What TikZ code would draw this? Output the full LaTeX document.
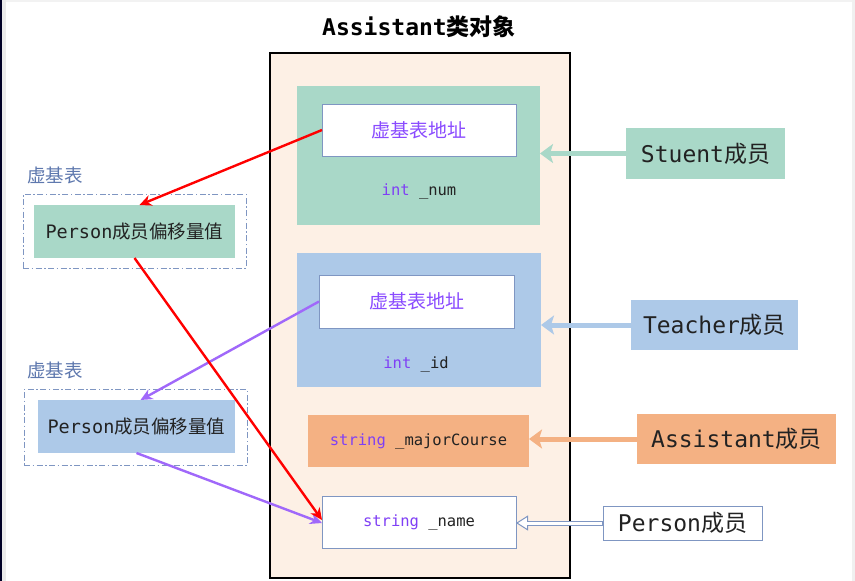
\documentclass[tikz,border=0pt]{standalone}
\usepackage{fontspec}
\setmainfont{DejaVu Sans Mono}
\newfontfamily\cjk{Noto Sans CJK SC}
\usetikzlibrary{arrows.meta,calc}
\definecolor{peach}{HTML}{FDF0E5}
\definecolor{mgreen}{HTML}{A9D8C8}
\definecolor{mblue}{HTML}{ADC9E8}
\definecolor{morange}{HTML}{F4B183}
\definecolor{bord}{HTML}{7F96C2}
\definecolor{kw}{HTML}{7F3FF5}
\definecolor{ptxt}{HTML}{8A4BFF}
\definecolor{parrow}{HTML}{A068FA}
\definecolor{lbl}{HTML}{5E78AE}
\definecolor{txt}{HTML}{222222}
\begin{document}
\begin{tikzpicture}[x=1pt,y=-1pt,
  box/.style={inner sep=0pt,outer sep=0pt,minimum width=#1},
  big/.style={font=\fontsize{23}{26}\selectfont,text=txt},
  mid/.style={font=\fontsize{18.5}{22}\selectfont,text=txt},
  code/.style={font=\fontsize{15.5}{18}\selectfont,text=txt},
  dashbox/.style={draw=bord,line width=1pt,dash pattern=on 6pt off 2.5pt on 1.5pt off 2.5pt},
  redarr/.style={draw=red,line width=2.4pt,-{Stealth[length=12pt,width=11pt]}},
  purarr/.style={draw=parrow,line width=2.4pt,-{Stealth[length=12pt,width=11pt]}},
  fatarr/.style={line width=5pt,-{Stealth[length=13pt,width=19pt,inset=3pt]}}
]
\useasboundingbox (0,0) rectangle (855,581);
\fill[white] (0,0) rectangle (855,581);
\fill[black!85!blue] (0,0) rectangle (2,581);
\fill[black!8] (2,0) rectangle (6,581);
\fill[black!5] (6,0) rectangle (855,1.5);
\fill[black!6] (852,0) rectangle (855,581);

% title
\node[font=\fontsize{23}{26}\selectfont\bfseries] (title) at (419,27) {Assistant{\cjk\bfseries 类对象}};

% outer object
\node[box,draw=black,line width=2.6pt,fill=peach,minimum width=300pt,minimum height=525pt] (outer) at (420,315.5) {};

% Student part
\node[box,fill=mgreen,minimum width=243pt,minimum height=139pt] (green) at (418.5,155.5) {};
\node[box,fill=white,draw=bord,line width=1pt,minimum width=194pt,minimum height=52pt,font=\fontsize{19}{22}\selectfont\cjk,text=ptxt] (vb1) at (419,130) {虚基表地址};
\node[code] (num) at (419,191) {\textcolor{kw}{int} \_num};

% Teacher part
\node[box,fill=mblue,minimum width=244pt,minimum height=134pt] (blue) at (419,320) {};
\node[box,fill=white,draw=bord,line width=1pt,minimum width=195pt,minimum height=53pt,font=\fontsize{19}{22}\selectfont\cjk,text=ptxt] (vb2) at (416.5,301.5) {虚基表地址};
\node[code] (id) at (416,364) {\textcolor{kw}{int} \_id};

% Assistant part
\node[box,fill=morange,minimum width=221pt,minimum height=52pt,code] (major) at (418.5,441) {\textcolor{kw}{string} \_majorCourse};

% Person part
\node[box,fill=white,draw=bord,line width=1pt,minimum width=194pt,minimum height=52pt,code] (name) at (419,522) {\textcolor{kw}{string} \_name};

% right labels
\node[box,fill=mgreen,minimum width=159pt,minimum height=51pt,big] (stu) at (705.5,153.5) {Stuent{\cjk 成员}};
\node[box,fill=mblue,minimum width=167pt,minimum height=50pt,big] (tea) at (714.5,325) {Teacher{\cjk 成员}};
\node[box,fill=morange,minimum width=199pt,minimum height=50pt,big] (asst) at (736.5,439) {Assistant{\cjk 成员}};
\node[box,fill=white,draw=bord,line width=1pt,minimum width=159pt,minimum height=34pt,big] (pers) at (682.5,523) {Person{\cjk 成员}};

\draw[fatarr,mgreen] (stu.west) -- (green.east |- stu.west);
\draw[fatarr,mblue] (tea.west) -- (blue.east |- tea.west);
\draw[fatarr,morange] (asst.west) -- (major.east |- asst.west);

% Person hollow double arrow
\draw[bord,line width=1pt,-{Triangle[open,fill=white,length=12pt,width=15pt]}] (pers.west) -- (name.east |- pers.west);
\draw[bord,line width=5pt,shorten >=11pt] (pers.west) -- (name.east |- pers.west);
\draw[white,line width=3pt,shorten >=10pt,shorten <=0.6pt] (pers.west) -- (name.east |- pers.west);

% left virtual base tables
\node[font=\fontsize{18.5}{22}\selectfont\cjk,text=lbl] (vt1) at (55,175) {虚基表};
\node[box,dashbox,minimum width=223pt,minimum height=74pt] (tab1) at (134.5,231) {};
\node[box,fill=mgreen,minimum width=201pt,minimum height=53pt,mid] (off1) at (134.5,231.5) {Person{\cjk 成员偏移量值}};

\node[font=\fontsize{18.5}{22}\selectfont\cjk,text=lbl] (vt2) at (55,370) {虚基表};
\node[box,dashbox,minimum width=223pt,minimum height=76pt] (tab2) at (135.5,427) {};
\node[box,fill=mblue,minimum width=197pt,minimum height=53pt,mid] (off2) at (136.5,426.5) {Person{\cjk 成员偏移量值}};

% pointer arrows
\draw[redarr] (vb1.west) -- ([xshift=5pt]off1.north);
\draw[purarr] (vb2.west) -- ([xshift=4pt]off2.north);
\draw[purarr] (off2.south) -- ([yshift=-1pt]name.west);
\draw[redarr] (off1.south) -- ([yshift=2pt]name.west);
\end{tikzpicture}
\end{document}
